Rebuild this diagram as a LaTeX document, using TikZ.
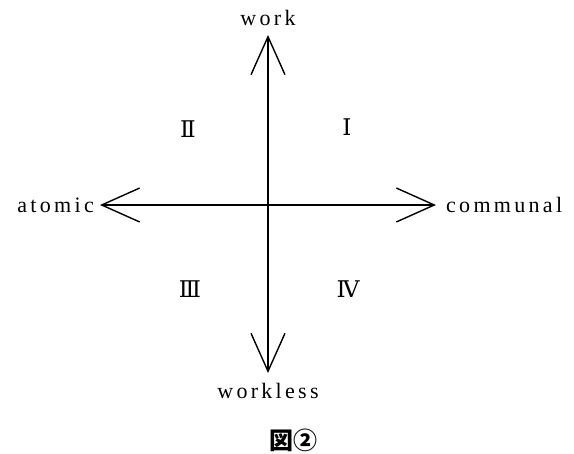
\documentclass[tikz,border=0pt]{standalone}
\usepackage{fontspec}
\setmainfont{Liberation Serif}
\newfontfamily\romfont{DejaVu Serif}
\newfontfamily\jpfont{Noto Sans CJK JP}
\usetikzlibrary{arrows.meta,positioning}

\begin{document}
\begin{tikzpicture}[x=1pt,y=-1pt,>={Straight Barb[length=38pt,width=34pt,line width=1.4pt]},
  axis/.style={<->,line width=1.7pt},
  lab/.style={inner sep=0pt,font=\fontsize{22}{26}\selectfont\addfontfeature{LetterSpace=15}},
  quad/.style={inner sep=0pt,font=\fontsize{23}{26}\romfont}]
  \useasboundingbox (0,0) rectangle (574,454);
  \coordinate (o) at (268,205);
  \coordinate (n) at (268,35);
  \coordinate (s) at (268,373);
  \coordinate (w) at (100,205);
  \coordinate (e) at (436,205);
  \draw[axis] (s) -- (n);
  \draw[axis] (w) -- (e);
  \node[lab,above=9pt of n] (work) {work};
  \node[lab,below=10pt of s] (workless) {workless};
  \node[lab,left=6pt of w] (atomic) {atomic};
  \node[lab,right=10pt of e] (communal) {communal};
  % quadrants
  \node[quad] (q1) at (347,127) {Ⅰ};
  \node[quad] (q2) at (188,129) {Ⅱ};
  \node[quad] (q3) at (190,289) {Ⅲ};
  \node[quad] (q4) at (348,289) {Ⅳ};
  \node[inner sep=0pt,font=\fontsize{24}{28}\jpfont\bfseries] (cap) at (293,440) {図②};
\end{tikzpicture}
\end{document}
